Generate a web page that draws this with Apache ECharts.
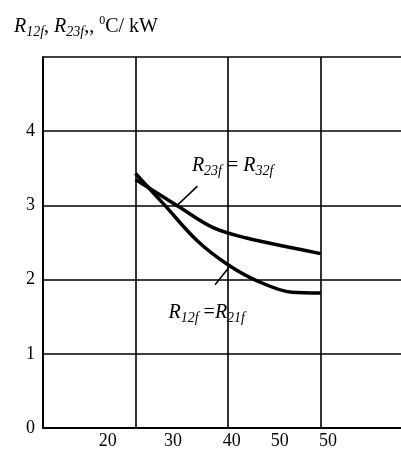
<!DOCTYPE html>
<html>
<head>
<meta charset="utf-8">
<script src="https://cdn.jsdelivr.net/npm/echarts@6/dist/echarts.min.js"></script>
<style>
  html, body { margin: 0; padding: 0; background: #fff; }
  #chart { width: 401px; height: 459px; }
</style>
</head>
<body>
<div id="chart"></div>
<script>
// Thermal resistance curves vs. x
const xR12 = [30, 33.1, 36.7, 40.0, 43.2, 46.9, 50.0];
const yR12 = [3.43, 3.01, 2.52, 2.20, 1.98, 1.83, 1.82];
const xR23 = [30, 34.6, 38.4, 42.0, 46.9, 50.0];
const yR23 = [3.35, 2.99, 2.70, 2.56, 2.43, 2.35];

// Tick labels along the bottom and where they sit on the axis
const xTickLabels = ['20', '30', '40', '50', '50'];
const xTickValues = [27.0, 34.05, 40.4, 45.6, 50.8];
const yTickLabels = ['0', '1', '2', '3', '4'];

// Curve annotations: text anchor and leader line ends
const labelR23 = { text: '{r|R}{s|23f}{e| = }{r|R}{s|32f}', at: [40.5, 3.53] };
const labelR12 = { text: '{r|R}{s|12f}{e| =}{r|R}{s|21f}', at: [37.7, 1.55] };
const leaderR23 = [[34.5, 3.0], [36.7, 3.26]];
const leaderR12 = [[38.6, 1.93], [40.2, 2.18]];

const FONT = '"Liberation Serif", "Times New Roman", serif';
const base = { fontFamily: FONT, fontWeight: 'normal', color: '#000' };
const richStyle = {
  r: Object.assign({}, base, { fontStyle: 'italic', fontSize: 20, lineHeight: 24 }),
  s: Object.assign({}, base, { fontStyle: 'italic', fontSize: 14, lineHeight: 14, verticalAlign: 'bottom' }),
  e: Object.assign({}, base, { fontSize: 20, lineHeight: 24 }),
  rt: Object.assign({}, base, { fontStyle: 'italic', fontSize: 20, lineHeight: 24 }),
  st: Object.assign({}, base, { fontStyle: 'italic', fontSize: 14, lineHeight: 14, verticalAlign: 'bottom' }),
  t: Object.assign({}, base, { fontSize: 20, lineHeight: 24 }),
  sup: Object.assign({}, base, { fontSize: 12, lineHeight: 12, verticalAlign: 'top' })
};

const pairs = (xs, ys) => xs.map((x, i) => [x, ys[i]]);

const chart = echarts.init(document.getElementById('chart'), null, { renderer: 'canvas' });
chart.setOption({
  animation: false,
  backgroundColor: '#fff',
  title: {
    text: '{rt|R}{st|12f}{t|, }{rt|R}{st|23f}{t|,, }{sup|0}{t|C/ kW}',
    left: 9,
    top: 10,
    textStyle: { fontWeight: 'normal', rich: richStyle }
  },
  grid: { left: 43, right: 0, top: 57, bottom: 31 },
  xAxis: [
    {
      type: 'value',
      min: 20,
      max: 58.7,
      interval: 10,
      axisLine: { show: true, lineStyle: { color: '#000', width: 2 } },
      axisTick: { show: false },
      axisLabel: { show: false },
      splitLine: { show: true, showMaxLine: false, lineStyle: { color: '#000', width: 1.6 } }
    },
    {
      type: 'value',
      position: 'bottom',
      min: 20,
      max: 58.7,
      axisLine: { show: false },
      axisTick: { show: false },
      splitLine: { show: false },
      axisLabel: {
        show: true,
        customValues: xTickValues,
        formatter: (v) => xTickLabels[xTickValues.indexOf(v)] ?? '',
        margin: 4,
        color: '#000',
        fontFamily: FONT,
        fontSize: 18,
        showMinLabel: true,
        showMaxLabel: true
      }
    }
  ],
  yAxis: {
    type: 'value',
    min: 0,
    max: 5,
    interval: 1,
    axisLine: { show: true, lineStyle: { color: '#000', width: 2 } },
    axisTick: { show: false },
    axisLabel: {
      margin: 8,
      color: '#000',
      fontFamily: FONT,
      fontSize: 18,
      formatter: (v) => yTickLabels[v] ?? ''
    },
    splitLine: { show: true, lineStyle: { color: '#000', width: 1.6 } }
  },
  series: [
    {
      name: 'R12f',
      type: 'line',
      smooth: 0.35,
      symbol: 'none',
      data: pairs(xR12, yR12),
      lineStyle: { color: '#000', width: 3.5 },
      markLine: {
        silent: true,
        symbol: 'none',
        label: { show: false },
        lineStyle: { color: '#000', width: 1.5, type: 'solid' },
        data: [[{ coord: leaderR12[0] }, { coord: leaderR12[1] }]]
      }
    },
    {
      name: 'R23f',
      type: 'line',
      smooth: 0.35,
      symbol: 'none',
      data: pairs(xR23, yR23),
      lineStyle: { color: '#000', width: 3.5 },
      markLine: {
        silent: true,
        symbol: 'none',
        label: { show: false },
        lineStyle: { color: '#000', width: 1.5, type: 'solid' },
        data: [[{ coord: leaderR23[0] }, { coord: leaderR23[1] }]]
      }
    },
    {
      name: 'labels',
      type: 'scatter',
      symbolSize: 0,
      silent: true,
      itemStyle: { opacity: 1 },
      data: [
        { value: labelR23.at, label: { formatter: labelR23.text } },
        { value: labelR12.at, label: { formatter: labelR12.text } }
      ],
      label: {
        show: true,
        position: 'inside',
        color: '#000',
        rich: richStyle
      }
    }
  ]
});
</script>
</body>
</html>
